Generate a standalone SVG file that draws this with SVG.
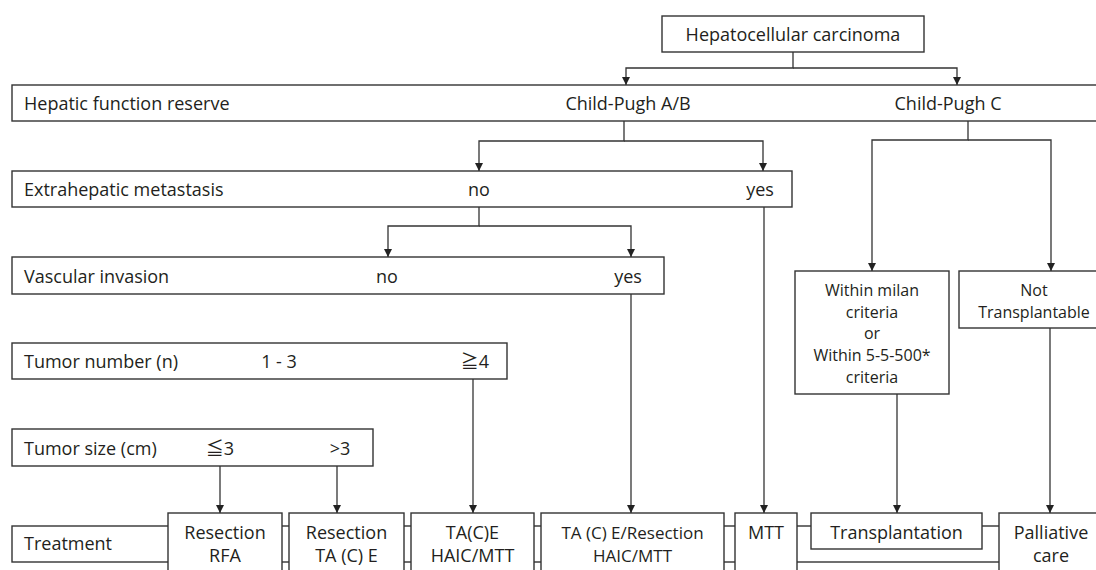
<svg xmlns="http://www.w3.org/2000/svg" width="1096" height="570" viewBox="0 0 1096 570">
<defs>
<style>
.box{fill:#fff;stroke:#333;stroke-width:1.4}
.t{font-family:"Open Sans","Noto Sans CJK JP",sans-serif;font-size:18px;fill:#231f20}
.s{font-size:16px}
.m{text-anchor:middle}
.cj{font-family:"Noto Sans CJK JP",sans-serif}
.ln{fill:none;stroke:#333;stroke-width:1.3}
</style>
<marker id="arr" viewBox="0 0 10 10" refX="10" refY="5" markerWidth="9" markerHeight="8" orient="auto" markerUnits="userSpaceOnUse">
<path d="M0,0 L10,5 L0,10 z" fill="#222"/>
</marker>
</defs>
<rect width="1096" height="570" fill="#fff"/>

<g id="hcc"><rect class="box" x="662" y="16" width="262" height="36"/><text class="t m" x="793" y="40.5">Hepatocellular carcinoma</text></g>

<g id="hepatic"><rect class="box" x="12" y="85" width="1100" height="36"/>
<text class="t" x="24" y="109.5">Hepatic function reserve</text>
<text class="t m" x="628" y="109.5">Child-Pugh A/B</text>
<text class="t m" x="948" y="109.5">Child-Pugh C</text></g>

<g id="extrahepatic"><rect class="box" x="12" y="171" width="780" height="36"/>
<text class="t" x="24" y="196">Extrahepatic metastasis</text>
<text class="t m" x="479" y="196">no</text>
<text class="t m" x="760" y="196">yes</text></g>

<g id="vascular"><rect class="box" x="12" y="257" width="652" height="37"/>
<text class="t" x="24" y="282.5">Vascular invasion</text>
<text class="t m" x="387" y="282.5">no</text>
<text class="t m" x="628" y="282.5">yes</text></g>

<g id="tumornumber"><rect class="box" x="12" y="343" width="495" height="36"/>
<text class="t" x="24" y="368">Tumor number (n)</text>
<text class="t m" x="279" y="368">1 - 3</text>
<text class="t m" x="475" y="368"><tspan class="cj">≧</tspan>4</text></g>

<g id="tumorsize"><rect class="box" x="12" y="429" width="361" height="37"/>
<text class="t" x="24" y="454.5">Tumor size (cm)</text>
<text class="t m" x="220" y="454.5"><tspan class="cj">≦</tspan>3</text>
<text class="t m" x="340" y="454.5">&gt;3</text></g>

<g id="milan"><rect class="box" x="795" y="271" width="154" height="123"/>
<text class="t s m" x="872" y="296">Within milan</text>
<text class="t s m" x="872" y="317.5">criteria</text>
<text class="t s m" x="872" y="339">or</text>
<text class="t s m" x="872" y="361">Within 5-5-500*</text>
<text class="t s m" x="872" y="383">criteria</text></g>

<g id="nottransplantable"><rect class="box" x="959" y="271" width="150" height="57"/>
<text class="t s m" x="1034" y="296">Not</text>
<text class="t s m" x="1034" y="317.5">Transplantable</text></g>

<g id="treatment"><rect class="box" x="12" y="526" width="1100" height="36"/>
<text class="t" x="24" y="549.5">Treatment</text></g>

<g id="tx1"><rect class="box" x="168" y="513" width="114" height="70"/>
<text class="t m" x="225" y="538.5">Resection</text><text class="t m" x="225" y="561.5">RFA</text></g>
<g id="tx2"><rect class="box" x="289" y="513" width="115" height="70"/>
<text class="t m" x="346.5" y="538.5">Resection</text><text class="t m" x="346.5" y="561.5">TA (C) E</text></g>
<g id="tx3"><rect class="box" x="411" y="513" width="123" height="70"/>
<text class="t m" x="472.5" y="538.5">TA(C)E</text><text class="t m" x="472.5" y="561.5">HAIC/MTT</text></g>
<g id="tx4"><rect class="box" x="541" y="513" width="183" height="70"/>
<text class="t m" x="632.5" y="538.5" style="font-size:17px">TA (C) E/Resection</text><text class="t m" x="632.5" y="561.5" style="font-size:17px">HAIC/MTT</text></g>
<g id="tx5"><rect class="box" x="735" y="513" width="62" height="70"/>
<text class="t m" x="766" y="538.5">MTT</text></g>
<g id="tx6"><rect class="box" x="811" y="513" width="171" height="36"/>
<text class="t m" x="896.5" y="538.5">Transplantation</text></g>
<g id="tx7"><rect class="box" x="999" y="513" width="120" height="70"/>
<text class="t m" x="1051" y="538.5">Palliative</text><text class="t m" x="1051" y="561.5">care</text></g>

<g id="connectors" class="ln">
<path class="ln" d="M793,52 V68 H626 V85" marker-end="url(#arr)"/>
<path class="ln" d="M793,68 H957 V85" marker-end="url(#arr)"/>
<path class="ln" d="M624,121 V141 H479 V171" marker-end="url(#arr)"/>
<path class="ln" d="M624,141 H763 V171" marker-end="url(#arr)"/>
<path class="ln" d="M968,121 V140 H872 V271" marker-end="url(#arr)"/>
<path class="ln" d="M968,140 H1051 V271" marker-end="url(#arr)"/>
<path class="ln" d="M479,207 V226 H388 V257" marker-end="url(#arr)"/>
<path class="ln" d="M479,226 H631 V257" marker-end="url(#arr)"/>
<path class="ln" d="M764,207 V513" marker-end="url(#arr)"/>
<path class="ln" d="M631,294 V513" marker-end="url(#arr)"/>
<path class="ln" d="M473,379 V513" marker-end="url(#arr)"/>
<path class="ln" d="M220,466 V513" marker-end="url(#arr)"/>
<path class="ln" d="M337,466 V513" marker-end="url(#arr)"/>
<path class="ln" d="M897,394 V513" marker-end="url(#arr)"/>
<path class="ln" d="M1050,328 V513" marker-end="url(#arr)"/>
</g>
</svg>
